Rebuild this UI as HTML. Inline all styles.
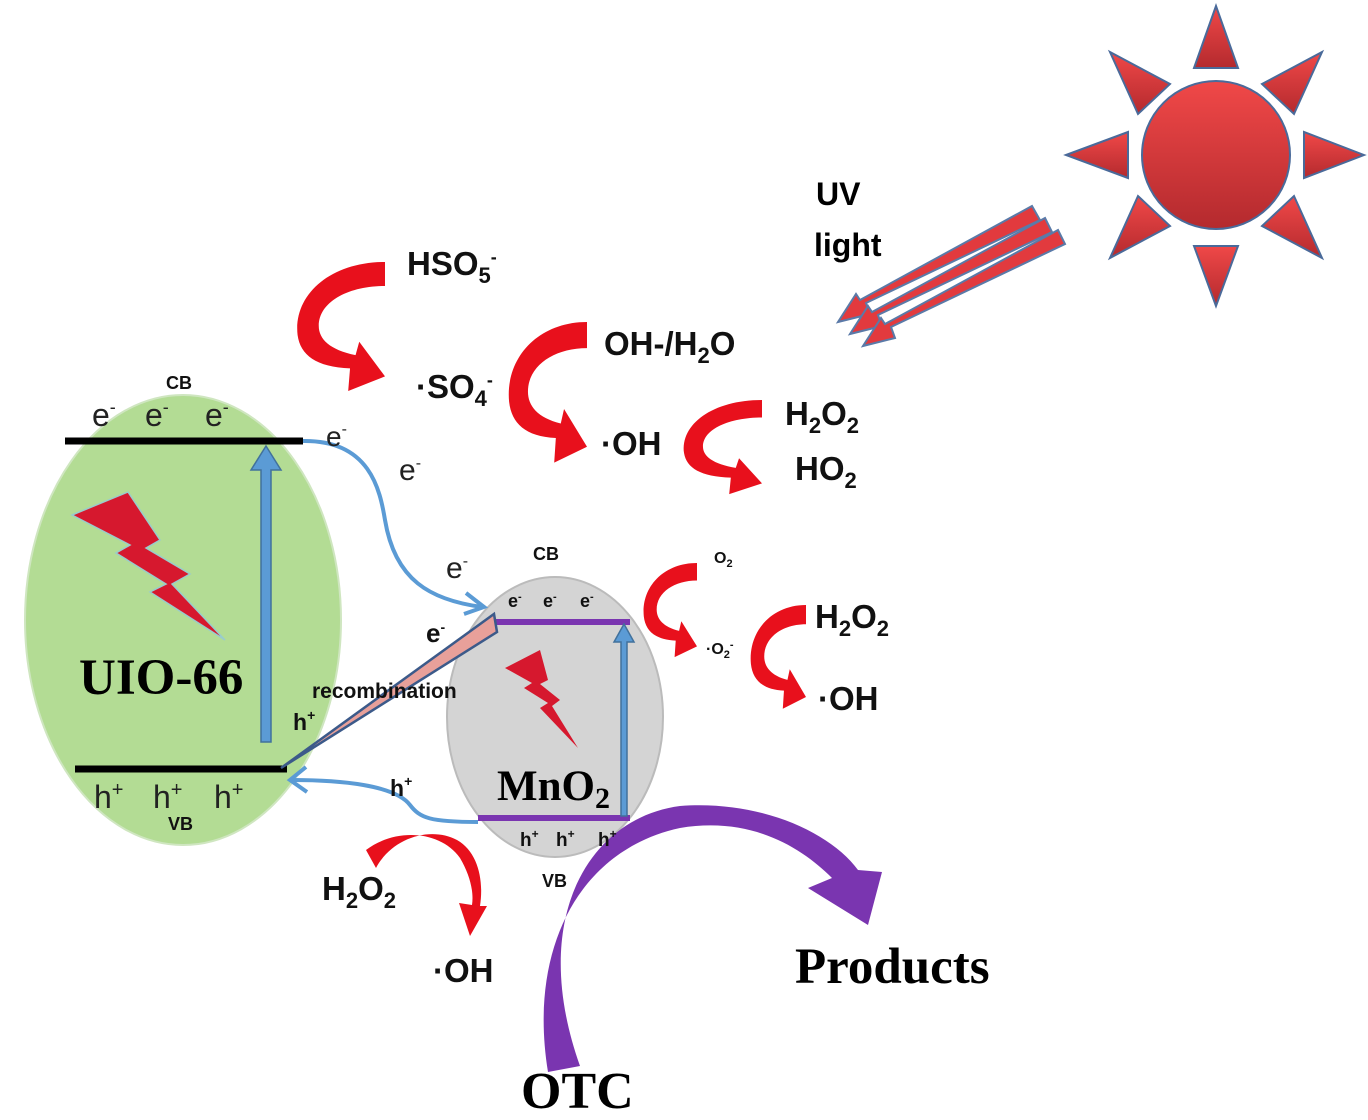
<!DOCTYPE html>
<html><head><meta charset="utf-8"><style>
html,body{margin:0;padding:0;background:#fff;}
svg{display:block;}
.s{font-family:"Liberation Sans","DejaVu Sans",sans-serif;}
.b{font-family:"Liberation Serif",serif;font-weight:bold;}
</style></head><body>
<svg width="1368" height="1120" viewBox="0 0 1368 1120" xmlns="http://www.w3.org/2000/svg">
<defs>
<linearGradient id="rg" x1="0" y1="0" x2="0" y2="1"><stop offset="0" stop-color="#f04848"/><stop offset="1" stop-color="#b42a2e"/></linearGradient>
<path id="cr" d="M100,0 C40,0 0,25 5,55 C8,70 25,79 62,80 L60,97 L100,86 L72,60 L68,70 C40,66 28,58 28,48 C28,30 60,18 100,18 Z"/>
</defs>
<!-- Sun -->
<g fill="url(#rg)" stroke="#4a6a9a" stroke-width="2">
<circle cx="1216" cy="155" r="74"/>
<polygon points="1216,6 1194,68 1238,68"/>
<polygon points="1216,306 1194,246 1238,246"/>
<polygon points="1066,155 1128,132 1128,178"/>
<polygon points="1364,155 1304,132 1304,178"/>
<polygon points="1110,52 1170,84 1138,114"/>
<polygon points="1322,52 1262,84 1294,114"/>
<polygon points="1110,258 1170,226 1138,196"/>
<polygon points="1322,258 1262,226 1294,196"/>
</g>
<!-- UV arrows -->
<g fill="#e23a3e" stroke="#5a7aa8" stroke-width="2">
<polygon points="1032,206 1040,220 866,303 870,314 838,322 856,294 860,300"/>
<polygon points="1045,218 1052,232 878,315 882,326 850,334 868,306 872,312"/>
<polygon points="1058,230 1065,244 891,327 895,338 863,346 881,318 885,324"/>
</g>
<text class="s" x="816" y="205" font-size="32" font-weight="bold">UV</text>
<text class="s" x="814" y="256" font-size="32" font-weight="bold">light</text>
<!-- ellipses -->
<ellipse cx="183" cy="620" rx="158" ry="225" fill="#b3dc94" stroke="#cfe6c0" stroke-width="2"/>
<ellipse cx="555" cy="717" rx="108" ry="140" fill="#d4d4d4" stroke="#bbb" stroke-width="2"/>
<!-- bolts -->
<polygon points="72,515 128,492 160,540 146,548 190,574 172,584 225,640 150,592 166,584 116,553 130,545" fill="#d6182e" stroke="#9cc" stroke-width="1.5"/>
<polygon points="505,668 540,650 548,680 540,684 560,700 552,706 578,748 540,708 548,703 524,688 532,683" fill="#d6182e"/>
<!-- band lines -->
<line x1="65" y1="441" x2="303" y2="441" stroke="#000" stroke-width="7"/>
<line x1="75" y1="769" x2="287" y2="769" stroke="#000" stroke-width="7"/>
<line x1="490" y1="622" x2="630" y2="622" stroke="#7a35b0" stroke-width="6"/>
<line x1="478" y1="818" x2="630" y2="818" stroke="#7a35b0" stroke-width="6"/>
<!-- vertical blue arrows -->
<g fill="#5b9bd5" stroke="#41719c" stroke-width="1.5">
<polygon points="261,742 271,742 271,470 281,470 266,446 251,470 261,470"/>
<polygon points="621,816 627,816 627,642 634,642 624,624 614,642 621,642"/>
</g>
<!-- recombination wedge -->
<polygon points="281,768 494,614 497,632" fill="#e8a09a" stroke="#3c5a8a" stroke-width="2.5"/>
<!-- blue curves -->
<path d="M303,441 C370,440 380,490 385,520 C395,580 430,600 482,607" fill="none" stroke="#5b9bd5" stroke-width="4"/>
<polyline points="466,593 484,607 464,614" fill="none" stroke="#5b9bd5" stroke-width="4"/>
<path d="M478,822 C430,822 420,818 410,805 C395,785 340,780 292,780" fill="none" stroke="#5b9bd5" stroke-width="4"/>
<polyline points="306,767 290,780 307,792" fill="none" stroke="#5b9bd5" stroke-width="4"/>
<!-- red crescent arrows -->
<g fill="#e8101c">
<use href="#cr" transform="translate(293,262) scale(0.92,1.33)"/>
<use href="#cr" transform="translate(505,322) scale(0.82,1.45)"/>
<use href="#cr" transform="translate(680,400) scale(0.82,0.97)"/>
<use href="#cr" transform="translate(641,563) scale(0.56,0.97)"/>
<use href="#cr" transform="translate(748,605) scale(0.58,1.07)"/>
<path d="M366,850 C395,828 440,830 460,858 C470,875 474,892 472,905 L459,903 L470,936 L487,906 L480,906 C484,880 478,852 457,840 C430,826 392,838 376,868 Z"/>
</g>
<!-- purple arc -->
<path d="M548,1072 C528,950 578,850 680,828 C752,816 802,848 832,878 L808,888 L868,925 L882,872 L858,870 C830,832 760,800 680,806 C588,818 528,920 580,1066 Z" fill="#7a35b0"/>
<!-- texts -->
<g class="s" fill="#111" font-weight="bold">
<text x="407" y="275" font-size="33">HSO<tspan font-size="22" dy="8">5</tspan><tspan font-size="18" dy="-20">-</tspan></text>
<text x="416" y="398" font-size="33">·SO<tspan font-size="22" dy="8">4</tspan><tspan font-size="18" dy="-20">-</tspan></text>
<text x="604" y="355" font-size="33">OH-/H<tspan font-size="22" dy="8">2</tspan><tspan dy="-8">O</tspan></text>
<text x="601" y="455" font-size="33">·OH</text>
<text x="785" y="425" font-size="33">H<tspan font-size="22" dy="8">2</tspan><tspan dy="-8">O</tspan><tspan font-size="22" dy="8">2</tspan></text>
<text x="795" y="480" font-size="33">HO<tspan font-size="22" dy="8">2</tspan></text>
<text x="714" y="563" font-size="16">O<tspan font-size="11" dy="4">2</tspan></text>
<text x="706" y="654" font-size="16">·O<tspan font-size="11" dy="4">2</tspan><tspan font-size="11" dy="-10">-</tspan></text>
<text x="815" y="628" font-size="33">H<tspan font-size="22" dy="8">2</tspan><tspan dy="-8">O</tspan><tspan font-size="22" dy="8">2</tspan></text>
<text x="818" y="710" font-size="33">·OH</text>
<text x="322" y="900" font-size="33">H<tspan font-size="22" dy="8">2</tspan><tspan dy="-8">O</tspan><tspan font-size="22" dy="8">2</tspan></text>
<text x="433" y="982" font-size="33">·OH</text>
<text x="166" y="389" font-size="18">CB</text>
<text x="533" y="560" font-size="18">CB</text>
<text x="426" y="642" font-size="26">e<tspan font-size="14" dy="-10">-</tspan></text>
<text x="312" y="698" font-size="21">recombination</text>
<text x="293" y="730" font-size="23">h<tspan font-size="14" dy="-10">+</tspan></text>
<text x="168" y="830" font-size="18">VB</text>
<text x="390" y="796" font-size="23">h<tspan font-size="14" dy="-10">+</tspan></text>
<text x="542" y="887" font-size="18">VB</text>
<text x="508" y="607" font-size="18">e<tspan font-size="11" dy="-7">-</tspan></text>
<text x="543" y="607" font-size="18">e<tspan font-size="11" dy="-7">-</tspan></text>
<text x="580" y="607" font-size="18">e<tspan font-size="11" dy="-7">-</tspan></text>
<text x="520" y="846" font-size="19">h<tspan font-size="12" dy="-8">+</tspan></text>
<text x="556" y="846" font-size="19">h<tspan font-size="12" dy="-8">+</tspan></text>
<text x="598" y="846" font-size="19">h<tspan font-size="12" dy="-8">+</tspan></text>
</g>
<g class="s" fill="#222" font-size="32">
<text x="92" y="426">e<tspan font-size="18" dy="-13">-</tspan></text>
<text x="145" y="426">e<tspan font-size="18" dy="-13">-</tspan></text>
<text x="205" y="426">e<tspan font-size="18" dy="-13">-</tspan></text>
<text x="326" y="446" font-size="28">e<tspan font-size="16" dy="-12">-</tspan></text>
<text x="399" y="480" font-size="30">e<tspan font-size="16" dy="-12">-</tspan></text>
<text x="446" y="578" font-size="30">e<tspan font-size="16" dy="-12">-</tspan></text>
<text x="94" y="808">h<tspan font-size="20" dy="-12">+</tspan></text>
<text x="153" y="808">h<tspan font-size="20" dy="-12">+</tspan></text>
<text x="214" y="808">h<tspan font-size="20" dy="-12">+</tspan></text>
</g>
<text class="b" x="79" y="694" font-size="51">UIO-66</text>
<text class="b" x="497" y="800" font-size="43">MnO<tspan font-size="30" dy="8">2</tspan></text>
<text class="b" x="795" y="983" font-size="51">Products</text>
<text class="b" x="521" y="1108" font-size="52">OTC</text>
</svg>
</body></html>
